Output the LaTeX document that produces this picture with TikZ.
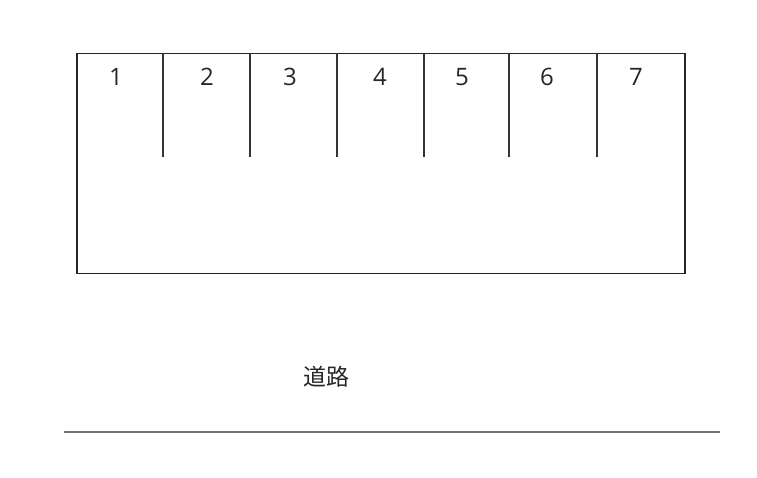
\documentclass[tikz,border=0pt]{standalone}
\usepackage{fontspec}
\setmainfont{Open Sans}
\newfontfamily\cjk{Noto Sans CJK JP}
\begin{document}
\begin{tikzpicture}[x=1pt,y=-1pt,
  frame/.style={draw=black!85,line width=1.8pt},
  divider/.style={draw=black!80,line width=1.6pt},
  num/.style={font=\fontsize{24}{24}\selectfont,text=black!85,inner sep=0pt},
  road/.style={draw=black!55,line width=1.7pt}]
\useasboundingbox (0,0) rectangle (757,477);
\node[minimum width=608pt,minimum height=220pt,inner sep=0pt,anchor=north west,frame] (lot) at (76,52.5) {};
\foreach \x [count=\i] in {163,250,337,424,509,597}{
  \coordinate (t\i) at (\x,52.5);
  \coordinate (b\i) at (\x,157);
  \draw[divider] (t\i) -- (b\i);
}
\foreach \x/\n in {116/1,207/2,290/3,380/4,462/5,547/6,636/7}{
  \node[num] (n\n) at (\x,77) {\n};
}
\node[font=\cjk\fontsize{23}{23}\selectfont,text=black!85,inner sep=0pt] (label) at (326,377) {道路};
\coordinate (r1) at (64,432);
\coordinate (r2) at (720,432);
\draw[road] (r1) -- (r2);
\end{tikzpicture}
\end{document}
